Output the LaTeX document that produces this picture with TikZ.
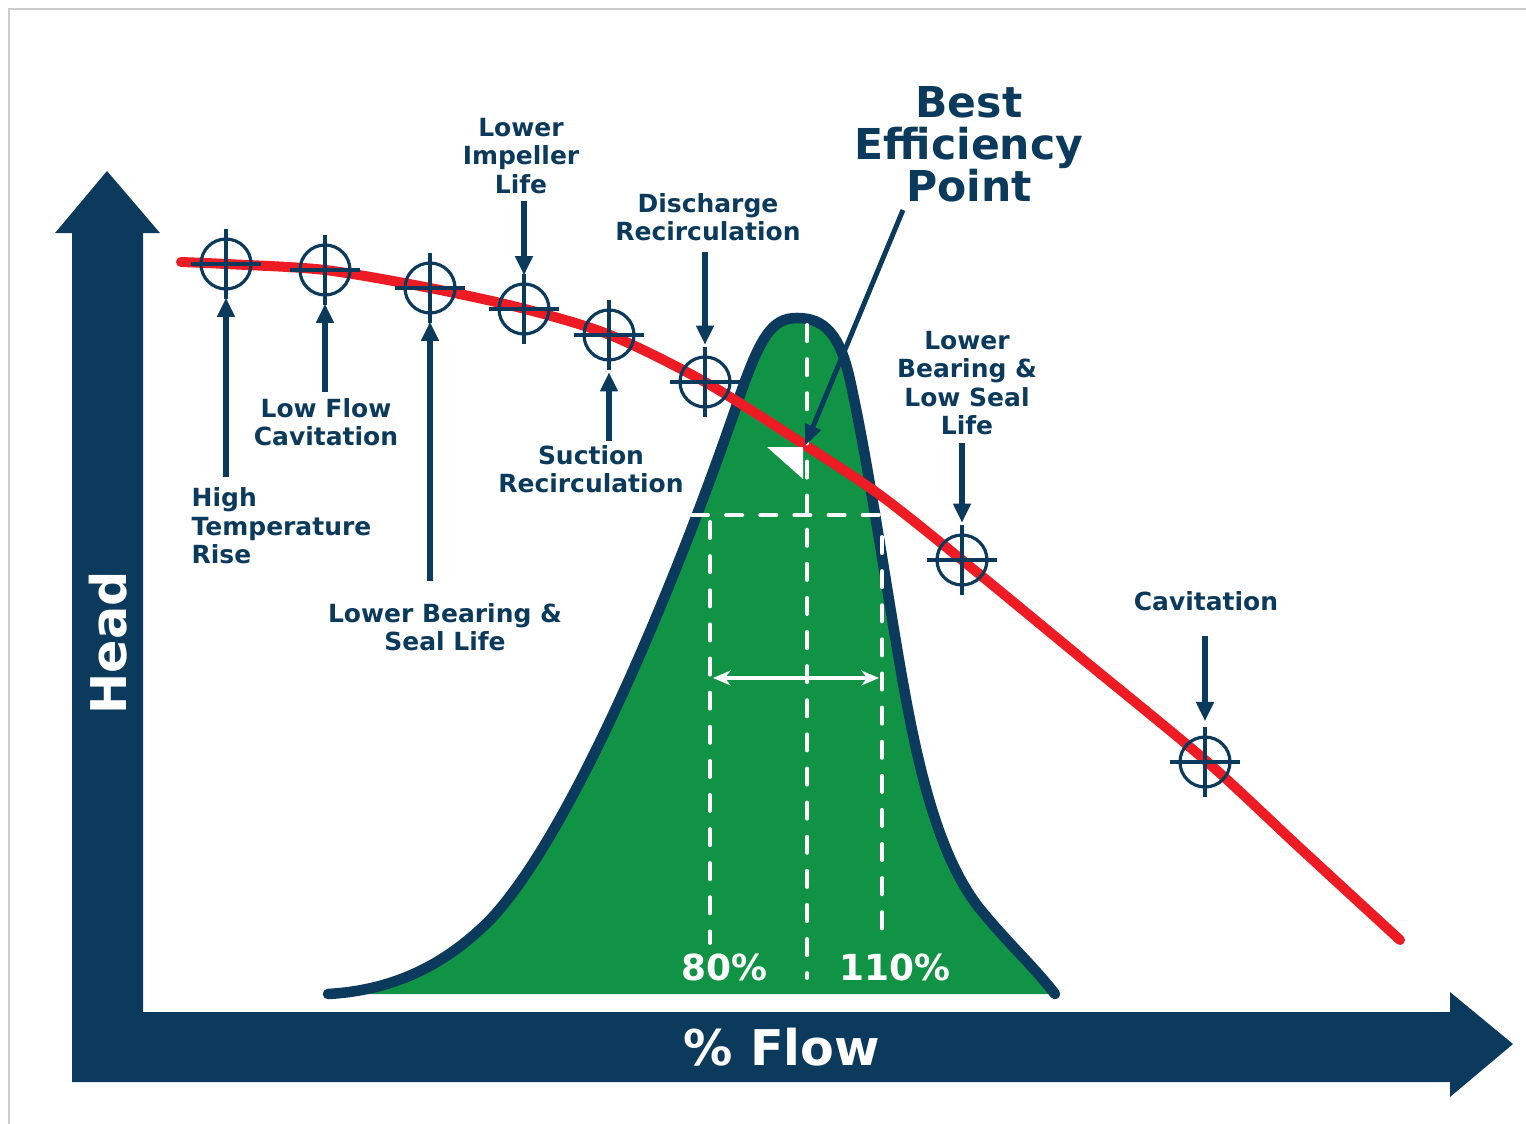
\documentclass[tikz,border=0pt]{standalone}
\usepackage{fontspec}
\setmainfont{DejaVu Sans}
\usetikzlibrary{arrows.meta,positioning}

\definecolor{navy}{RGB}{11,58,92}
\definecolor{curvered}{RGB}{237,28,36}
\definecolor{bellgreen}{RGB}{16,147,69}

\tikzset{
  lbl/.style={font=\fontsize{7.1}{8.1}\selectfont\bfseries, text=navy, align=center, inner sep=0pt},
  target/.style={circle, draw=navy, line width=0.9pt, minimum size=0.5cm, inner sep=0pt},
  aim/.style={draw=navy, line width=0.9pt},
  pointer/.style={draw=navy, line width=1.7pt, -{Triangle[length=5.5pt,width=4.8pt]}},
  guide/.style={draw=white, line width=1.1pt, dash pattern=on 4.6pt off 5.1pt, line cap=round},
}

\begin{document}
\begin{tikzpicture}[x=0.01cm, y=-0.01cm]
  \useasboundingbox (0,0) rectangle (1526,1124);
  \draw[gray!40, line width=0.6pt] (9,1124) -- (9,9) -- (1526,9);

  % axes
  \fill[navy] (72,1082) -- (72,233) -- (55,233) -- (107,171) -- (160,233)
    -- (143,233) -- (143,1012) -- (1450,1012) -- (1450,992) -- (1513,1044)
    -- (1450,1097) -- (1450,1082) -- cycle;
  \node[text=white, rotate=90, font=\fontsize{14}{16}\selectfont\bfseries] (head) at (108,643) {Head};
  \node[text=white, font=\fontsize{14}{16}\selectfont\bfseries] (flow) at (782,1047) {\% Flow};

  % efficiency bell
  \draw[navy, line width=3pt, line cap=round, fill=bellgreen]
    (328,994) .. controls (400,990) and (450,960) .. (490,920)
    .. controls (575,830) and (680,570) .. (735,410)
    .. controls (760,335) and (772,318) .. (797,318)
    .. controls (825,318) and (840,335) .. (850,380)
    .. controls (872,480) and (892,630) .. (910,720)
    .. controls (928,810) and (950,875) .. (985,915)
    .. controls (1010,945) and (1035,968) .. (1055,994);

  % pump curve
  \draw[curvered, line width=2.85pt, line cap=round]
    plot[smooth, tension=0.5] coordinates {(181,262) (226,264) (325,270) (430,288)
      (525,309) (610,335) (705,382) (805,445) (880,495) (962,560) (1080,657)
      (1205,760) (1300,848) (1400,940)};

  % operating range guides
  \draw[guide] (692,515) -- (880,515);
  \draw[guide] (710,522) -- (710,943);
  \draw[guide] (807,325) -- (807,978);
  \draw[guide] (882,537) -- (882,943);
  \coordinate (lo) at (713,678);
  \coordinate (hi) at (879,678);
  \draw[white, line width=1pt, {Stealth[length=5pt,width=4.2pt]}-{Stealth[length=5pt,width=4.2pt]}] (lo) -- (hi);
  \node[text=white, font=\fontsize{10.2}{12}\selectfont\bfseries] (p80) at (724,967) {80\%};
  \node[text=white, font=\fontsize{10.2}{12}\selectfont\bfseries] (p110) at (895,967) {110\%};
  \fill[white] (767,447) -- (803,447) -- (803,479) -- cycle;

  % best efficiency point
  \node[lbl, font=\fontsize{12.1}{12}\selectfont\bfseries] (best) at (969,144) {Best\\Efficiency\\Point};
  \coordinate (bepfoot) at (903,210);
  \coordinate (bep) at (805,446);
  \draw[navy, line width=1.4pt, -{Triangle[length=6pt,width=4.6pt]}] (bepfoot) -- (bep);

  % targets on the curve
  \foreach \n/\x/\y in {t1/226/264, t2/325/270, t3/430/288, t4/524/309,
                        t5/609/335, t6/705/382, t7/962/560, t8/1205/762} {
    \node[target] (\n) at (\x,\y) {};
    \draw[aim] (\n.center) +(-35,0) -- +(35,0);
    \draw[aim] (\n.center) +(0,-35) -- +(0,35);
  }

  % labels
  \node[lbl, anchor=west, align=left] (hot) at (191,526) {High\\Temperature\\Rise};
  \node[lbl] (lowflow) at (326,422) {Low Flow\\Cavitation};
  \node[lbl] (seal) at (445,627) {Lower Bearing \&\\Seal Life};
  \node[lbl] (impeller) at (521,156) {Lower\\Impeller\\Life};
  \node[lbl] (suction) at (591,469) {Suction\\Recirculation};
  \node[lbl] (discharge) at (708,217) {Discharge\\Recirculation};
  \node[lbl] (bearing) at (967,383) {Lower\\Bearing \&\\Low Seal\\Life};
  \node[lbl] (cavit) at (1206,601) {Cavitation};

  \draw[pointer, shorten <=3pt, shorten >=2pt] (hot.north -| t1) -- (t1);
  \draw[pointer, shorten <=1.5pt, shorten >=2pt] (lowflow.north -| t2) -- (t2);
  \draw[pointer, shorten <=6pt, shorten >=2pt] (seal.north -| t3) -- (t3);
  \draw[pointer, shorten <=2pt, shorten >=2pt] (impeller.south -| t4) -- (t4);
  \draw[pointer, shorten <=1pt, shorten >=3pt] (suction.north -| t5) -- (t5);
  \draw[pointer, shorten <=3pt, shorten >=3pt] (discharge.south -| t6) -- (t6);
  \draw[pointer, shorten <=2pt, shorten >=3pt] (bearing.south -| t7) -- (t7);
  \draw[pointer, shorten <=7pt, shorten >=4pt] (cavit.south -| t8) -- (t8);
\end{tikzpicture}
\end{document}
